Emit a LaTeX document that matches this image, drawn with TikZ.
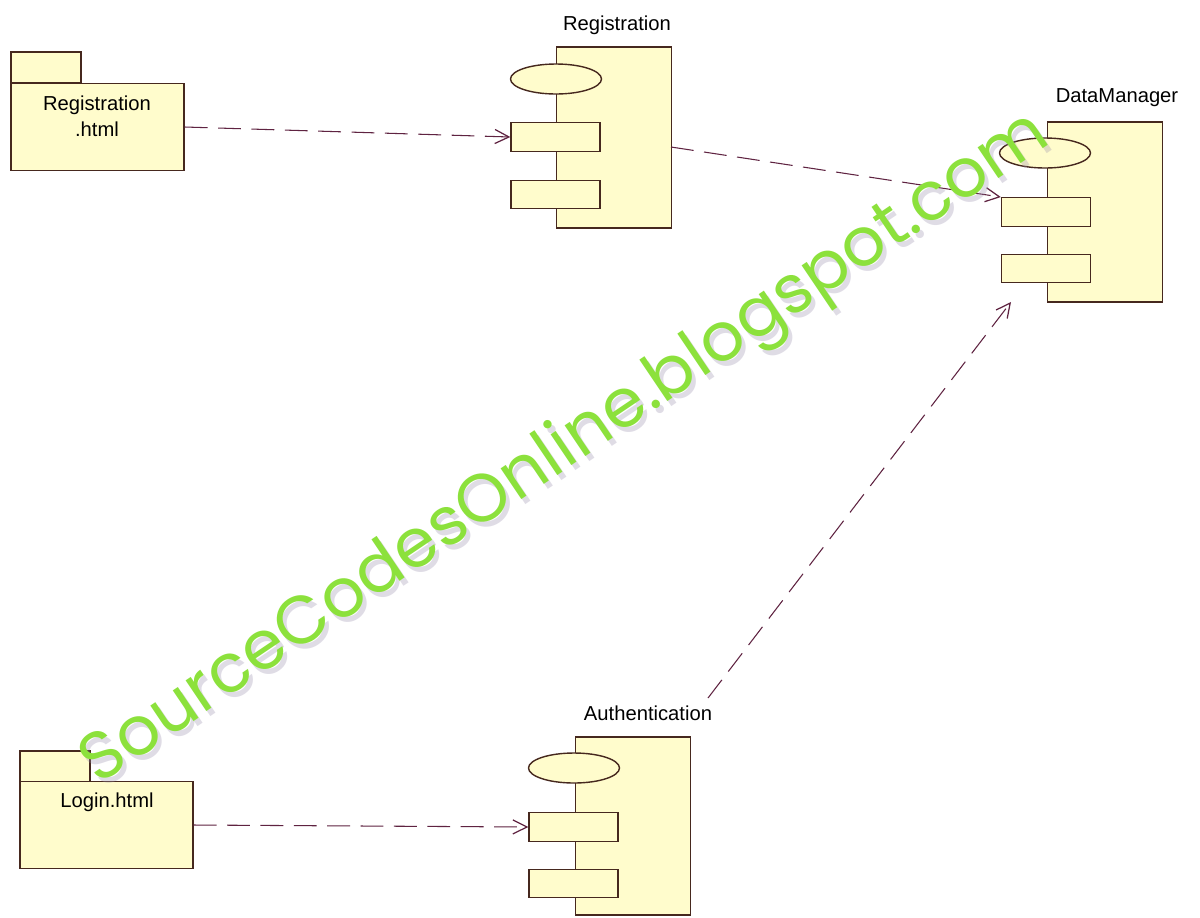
\documentclass[tikz,border=0pt]{standalone}
\usepackage{fontspec}
\setmainfont{Liberation Sans}
\newfontfamily\wmfont{Poppins}
\usetikzlibrary{arrows.meta,shapes.geometric}
\definecolor{boxfill}{RGB}{255,252,204}
\definecolor{boxline}{RGB}{70,40,30}
\definecolor{conn}{RGB}{95,35,65}
\definecolor{wmgreen}{RGB}{140,225,60}
\definecolor{wmshade}{RGB}{150,140,170}
\begin{document}
\begin{tikzpicture}[x=0.02cm,y=-0.02cm,
  part/.style={draw=boxline, fill=boxfill, line width=0.8pt, inner sep=0pt, rectangle},
  iface/.style={draw=boxline, fill=boxfill, line width=0.8pt, inner sep=0pt, ellipse, minimum width=1.82cm, minimum height=0.6cm},
  portbox/.style={part, minimum width=1.78cm, minimum height=0.57cm},
  tabbox/.style={part, minimum width=1.4cm, minimum height=0.62cm},
  pkgbody/.style={part, minimum width=3.46cm, minimum height=1.74cm},
  compbody/.style={part, minimum width=2.3cm},
  lab/.style={font=\fontsize{11.5}{15}\selectfont, text=black, inner sep=0pt, align=center},
  dep/.style={draw=conn, line width=0.6pt, dash pattern=on 13pt off 6pt,
    -{Straight Barb[length=8pt,width=8pt,line width=0.7pt]}},
  wm/.style={font=\wmfont\fontsize{38.5}{38.5}\selectfont, rotate=34, inner sep=0pt}]
\useasboundingbox (0,0) rectangle (1200,917);
\fill[white] (0,0) rectangle (1200,917);

% Registration.html package
\node[tabbox] (rhtab) at (46,67.5) {};
\node[pkgbody] (rhbody) at (97.5,127) {};
\node[lab] (rhtext) at (97,116) {Registration\\.html};

% Registration component
\node[compbody, minimum height=3.62cm] (regmain) at (614,137.5) {};
\node[iface] (regif) at (556,79) {};
\node[portbox] (regp1) at (555.5,137) {};
\node[portbox] (regp2) at (555.5,194.5) {};
\node[lab] (reglab) at (617,25) {Registration};

% DataManager component
\node[compbody, minimum height=3.6cm] (dmmain) at (1105,212) {};
\node[iface] (dmif) at (1045,153) {};
\node[portbox] (dmp1) at (1046,212) {};
\node[portbox] (dmp2) at (1046,268.5) {};
\node[lab] (dmlab) at (1117,98) {DataManager};

% Login.html package
\node[tabbox] (lhtab) at (55,766.5) {};
\node[pkgbody] (lhbody) at (106.5,825) {};
\node[lab] (lhtext) at (107,802) {Login.html};

% Authentication component
\node[compbody, minimum height=3.56cm] (aumain) at (633,826) {};
\node[iface] (auif) at (574,768) {};
\node[portbox] (aup1) at (573.5,827) {};
\node[portbox] (aup2) at (573.5,883.5) {};
\node[lab] (aulab) at (648,713) {Authentication};

% connectors
\coordinate (regout) at (671,147);
\coordinate (ausrc) at (708,698);
\coordinate (dmin) at (1011,302);
\draw[dep] (rhbody.east) -- (regp1.west);
\draw[dep] (regout) -- (dmp1.north west);
\draw[dep] (lhbody.east) -- (aup1.west);
\draw[dep] (ausrc) -- (dmin);

% watermark
\node[wm, text=wmshade, opacity=0.3] (wmshadow) at (570,455) {SourceCodesOnline.blogspot.com};
\node[wm, text=wmgreen] (wmtext) at (566,450) {SourceCodesOnline.blogspot.com};
\end{tikzpicture}
\end{document}
